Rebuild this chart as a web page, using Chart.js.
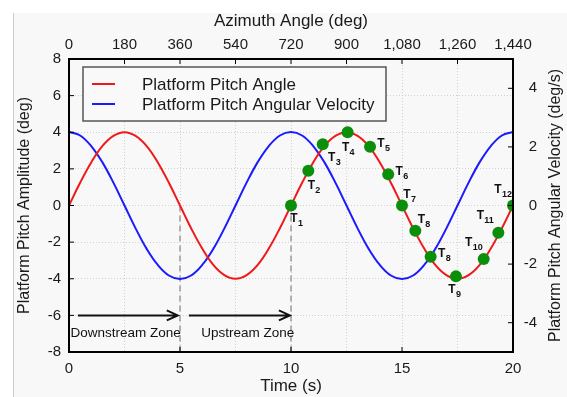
<!DOCTYPE html>
<html>
<head>
<meta charset="utf-8">
<script src="https://cdn.jsdelivr.net/npm/chart.js@4/dist/chart.umd.min.js"></script>
<style>
  html,body{margin:0;padding:0;background:#fff;}
  #c{display:block;}
</style>
</head>
<body>
<canvas id="c" width="567" height="397"></canvas>
<script>
// ---- data ----
const times = [0,0.5,1,1.5,2,2.5,3,3.5,4,4.5,5,5.5,6,6.5,7,7.5,8,8.5,9,9.5,10,
               10.5,11,11.5,12,12.5,13,13.5,14,14.5,15,15.5,16,16.5,17,17.5,18,18.5,19,19.5,20];
const pitchAngle = [0,1.24,2.35,3.24,3.80,4.00,3.80,3.24,2.35,1.24,0,-1.24,-2.35,-3.24,-3.80,-4.00,-3.80,-3.24,-2.35,-1.24,0,
                    1.24,2.35,3.24,3.80,4.00,3.80,3.24,2.35,1.24,0,-1.24,-2.35,-3.24,-3.80,-4.00,-3.80,-3.24,-2.35,-1.24,0];
const pitchVelocity = [2.51,2.39,2.03,1.48,0.78,0,-0.78,-1.48,-2.03,-2.39,-2.51,-2.39,-2.03,-1.48,-0.78,0,0.78,1.48,2.03,2.39,2.51,
                       2.39,2.03,1.48,0.78,0,-0.78,-1.48,-2.03,-2.39,-2.51,-2.39,-2.03,-1.48,-0.78,0,0.78,1.48,2.03,2.39,2.51];
const markerTimes  = [10, 10.78, 11.43, 12.55, 13.56, 14.38, 15.0, 15.6, 16.29, 17.43, 18.68, 19.34, 20];
const markerValues = [0, 1.90, 3.34, 4.0, 3.21, 1.70, 0, -1.38, -2.80, -3.87, -2.92, -1.49, 0];
const markerLabels = ["1","2","3","4","5","6","7","8","8","9","10","11","12"];
const zoneBoundaries = [5, 10];
const zoneArrowStart = [0.4, 5.4];
const zoneArrowEnd   = [4.9, 9.95];
const zoneArrowLevel = -6;
const zoneNames   = ["Downstream Zone", "Upstream Zone"];
const zoneCenters = [2.55, 8.05];
const zoneTextLevel = -7.0;
const leftTicks = [-8,-6,-4,-2,0,2,4,6,8];
const rightTicks = [-4,-2,0,2,4];
const bottomTicks = [0,5,10,15,20];
const topTicks = [0,180,360,540,720,900,1080,1260,1440];
const legendNames = ["Platform Pitch Angle", "Platform Pitch Angular Velocity"];

// ---- label offsets for T markers (px, styling only) ----
const labelOffsets = [[3,13],[3,15],[9,13],[-2,15],[11,-3],[11,-3],[5,-11],[6,-11],[11,-3],[-4,13],[-15,-16],[-18,-17],[-15,-16]];

const FONT = "'Liberation Sans', Arial, Helvetica, sans-serif";
Chart.defaults.font.family = FONT;
Chart.defaults.color = '#1a1a1a';

const RED = '#f01818', BLUE = '#1a1aff', GREEN = '#0b8f0b';

const decor = {
  id: 'decor',
  beforeDraw(chart) {
    const ctx = chart.ctx;
    ctx.save();
    ctx.fillStyle = '#ffffff';
    ctx.fillRect(0, 0, chart.width, chart.height);
    ctx.fillStyle = '#f8f8f8';
    ctx.fillRect(13, 13, chart.width - 13, chart.height - 13);
    ctx.strokeStyle = '#cccccc';
    ctx.lineWidth = 1;
    ctx.beginPath(); ctx.moveTo(13.5, 13); ctx.lineTo(13.5, chart.height); ctx.stroke();
    ctx.restore();
  },
  afterDatasetsDraw(chart) {
    const ctx = chart.ctx;
    const {x, x2, y, y2} = chart.scales;
    const a = chart.chartArea;
    ctx.save();
    // frame
    ctx.strokeStyle = '#000';
    ctx.lineWidth = 2;
    ctx.strokeRect(a.left, a.top, a.right - a.left, a.bottom - a.top);
    // inward ticks
    ctx.lineWidth = 1;
    ctx.beginPath();
    bottomTicks.slice(1, -1).forEach(v => { const p = x.getPixelForValue(v); ctx.moveTo(p, a.bottom); ctx.lineTo(p, a.bottom - 5); });
    topTicks.slice(1, -1).forEach(v => { const p = x2.getPixelForValue(v); ctx.moveTo(p, a.top); ctx.lineTo(p, a.top + 5); });
    leftTicks.slice(1, -1).forEach(v => { const p = y.getPixelForValue(v); ctx.moveTo(a.left, p); ctx.lineTo(a.left + 5, p); });
    rightTicks.forEach(v => { const p = y2.getPixelForValue(v); ctx.moveTo(a.right, p); ctx.lineTo(a.right - 5, p); });
    ctx.stroke();

    // zone arrows
    ctx.strokeStyle = '#111';
    ctx.lineWidth = 2;
    const ay = y.getPixelForValue(zoneArrowLevel);
    zoneArrowStart.forEach((s, i) => {
      const x0 = x.getPixelForValue(s), x1 = x.getPixelForValue(zoneArrowEnd[i]);
      ctx.beginPath();
      ctx.moveTo(x0, ay); ctx.lineTo(x1, ay);
      ctx.moveTo(x1 - 11, ay - 5); ctx.lineTo(x1, ay); ctx.lineTo(x1 - 11, ay + 5);
      ctx.stroke();
    });
    // zone text
    ctx.fillStyle = '#111';
    ctx.font = '13.5px ' + FONT;
    ctx.textAlign = 'center';
    ctx.textBaseline = 'middle';
    zoneNames.forEach((n, i) => {
      ctx.fillText(n, x.getPixelForValue(zoneCenters[i]), y.getPixelForValue(zoneTextLevel));
    });

    // T labels
    markerTimes.forEach((t, i) => {
      const px = x.getPixelForValue(t) + labelOffsets[i][0];
      const py = y.getPixelForValue(markerValues[i]) + labelOffsets[i][1];
      ctx.font = 'bold 12px ' + FONT;
      ctx.textAlign = 'center';
      ctx.textBaseline = 'middle';
      ctx.fillStyle = '#111';
      ctx.fillText('T', px, py);
      ctx.font = 'bold 9px ' + FONT;
      ctx.textAlign = 'left';
      ctx.fillText(markerLabels[i], px + 4, py + 5);
    });

    // legend
    const lx = a.left + 14, ly = a.top + 8, lw = 303, lh = 54;
    ctx.fillStyle = '#f9f9f9';
    ctx.fillRect(lx, ly, lw, lh);
    ctx.strokeStyle = '#555';
    ctx.lineWidth = 1.5;
    ctx.strokeRect(lx, ly, lw, lh);
    const cols = [RED, BLUE];
    legendNames.forEach((n, i) => {
      const yy = ly + 17 + i * 20;
      ctx.strokeStyle = cols[i];
      ctx.lineWidth = 2;
      ctx.beginPath(); ctx.moveTo(lx + 9, yy); ctx.lineTo(lx + 32, yy); ctx.stroke();
      ctx.fillStyle = '#1a1a1a';
      ctx.font = '17px ' + FONT;
      ctx.textAlign = 'left';
      ctx.textBaseline = 'middle';
      ctx.fillText(n, lx + 59, yy + 1);
    });

    // right axis title (reads bottom-to-top)
    ctx.save();
    ctx.translate(556, (a.top + a.bottom) / 2);
    ctx.rotate(-Math.PI / 2);
    ctx.font = '16px ' + FONT;
    ctx.fillStyle = '#1a1a1a';
    ctx.textAlign = 'center';
    ctx.textBaseline = 'middle';
    ctx.fillText('Platform Pitch Angular Velocity (deg/s)', 0, 0);
    ctx.restore();

    ctx.restore();
  }
};

const pts = (xs, ys) => xs.map((t, i) => ({x: t, y: ys[i]}));

const datasets = [
  { label: 'markers', data: pts(markerTimes, markerValues), xAxisID: 'x', yAxisID: 'y',
    showLine: false, pointRadius: 6, pointHoverRadius: 6, pointBackgroundColor: GREEN, pointBorderColor: GREEN, pointBorderWidth: 0, order: 0 },
  { label: legendNames[0], data: pts(times, pitchAngle), xAxisID: 'x', yAxisID: 'y',
    borderColor: RED, borderWidth: 2, pointRadius: 0, tension: 0.4, fill: false, order: 1 },
  { label: legendNames[1], data: pts(times, pitchVelocity), xAxisID: 'x', yAxisID: 'y2',
    borderColor: BLUE, borderWidth: 2, pointRadius: 0, tension: 0.4, fill: false, order: 2 }
];
zoneBoundaries.forEach(b => {
  datasets.push({ label: 'boundary', data: [{x: b, y: 0}, {x: b, y: -8}], xAxisID: 'x', yAxisID: 'y',
    borderColor: '#9a9a9a', borderWidth: 1.5, borderDash: [6, 4], pointRadius: 0, tension: 0, order: 3 });
});

new Chart(document.getElementById('c'), {
  type: 'line',
  data: { datasets },
  plugins: [decor],
  options: {
    responsive: false,
    animation: false,
    devicePixelRatio: 1,
    layout: { padding: { left: 0, top: 0, bottom: 0, right: 30 } },
    plugins: { legend: { display: false }, tooltip: { enabled: false } },
    scales: {
      x: {
        type: 'linear', position: 'bottom', min: 0, max: 20,
        afterBuildTicks: s => { s.ticks = bottomTicks.map(v => ({value: v})); },
        afterFit: s => { s.height = 45; },
        ticks: { font: { size: 15 }, padding: 8, maxRotation: 0, color: '#1a1a1a' },
        grid: { display: false, drawTicks: false },
        border: { display: false },
        title: { display: true, text: 'Time (s)', font: { size: 17 }, padding: { top: 0, bottom: 0 }, color: '#1a1a1a' }
      },
      x2: {
        type: 'linear', position: 'top', min: 0, max: 1440,
        afterBuildTicks: s => { s.ticks = topTicks.map(v => ({value: v})); },
        afterFit: s => { s.height = 59; },
        ticks: { font: { size: 15 }, padding: 5, maxRotation: 0, color: '#1a1a1a',
                 callback: v => Number(v).toLocaleString('en-US') },
        grid: { display: true, drawTicks: false, color: '#d0d0d0', lineWidth: 1 },
        border: { display: false, dash: [1, 2] },
        title: { display: true, text: 'Azimuth Angle (deg)', font: { size: 17 }, padding: { top: 11, bottom: 0 }, color: '#1a1a1a' }
      },
      y: {
        type: 'linear', position: 'left', min: -8, max: 8,
        afterBuildTicks: s => { s.ticks = leftTicks.map(v => ({value: v})); },
        afterFit: s => { s.width = 69; },
        ticks: { font: { size: 15 }, padding: 8, color: '#1a1a1a' },
        grid: { display: true, drawTicks: false, color: '#d0d0d0', lineWidth: 1 },
        border: { display: false, dash: [1, 2] },
        title: { display: true, text: 'Platform Pitch Amplitude (deg)', font: { size: 16 }, padding: { top: 15, bottom: 0 }, color: '#1a1a1a' }
      },
      y2: {
        type: 'linear', position: 'right', min: -5, max: 5,
        afterBuildTicks: s => { s.ticks = rightTicks.map(v => ({value: v})); },
        afterFit: s => { s.width = 24; },
        ticks: { font: { size: 15 }, padding: 10, crossAlign: 'far', color: '#1a1a1a' },
        grid: { display: false, drawTicks: false },
        border: { display: false },
        title: { display: false }
      }
    }
  }
});
</script>
</body>
</html>
